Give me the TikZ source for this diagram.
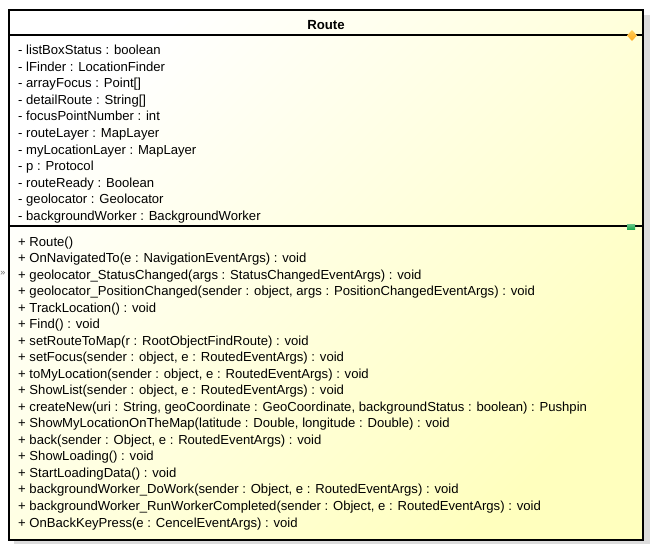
\documentclass[tikz,border=0pt]{standalone}
\usepackage{fontspec}
\setmainfont{Liberation Sans}
\definecolor{shadowgray}{RGB}{220,220,220}
\definecolor{boxyellow}{RGB}{255,255,190}
\definecolor{diamondorange}{RGB}{255,170,30}
\definecolor{diamondlight}{RGB}{255,205,90}
\definecolor{portgreen}{RGB}{30,170,80}
\begin{document}
\begin{tikzpicture}[x=1pt,y=-1pt,
  member/.style={anchor=base west,inner sep=0pt,font=\fontsize{13.1}{16}\selectfont},
  titletext/.style={anchor=base,inner sep=0pt,font=\fontsize{13.2}{16}\selectfont\bfseries},
  divider/.style={line width=1.5pt},
  frame/.style={line width=2.2pt}]
\useasboundingbox (0,0) rectangle (650,544);
% shadow
\fill[shadowgray] (14,15) rectangle (650,544);
% body gradient
\shade[top color=white,bottom color=boxyellow,shading angle=45] (9,10) rectangle (643,540);
\draw[frame] (9,10) rectangle (643,540);
\coordinate (dl1) at (9,35);
\coordinate (dr1) at (643,35);
\coordinate (dl2) at (9,226);
\coordinate (dr2) at (643,226);
\draw[divider] (dl1) -- (dr1);
\draw[divider] (dl2) -- (dr2);
% title
\node[titletext] (title) at (326,29) {Route};
% markers
\shade[top color=diamondlight,bottom color=diamondorange] (632,30) -- (637,35.5) -- (632,41) -- (627,35.5) -- cycle;
\shade[top color=portgreen!70!white,bottom color=portgreen] (627,224.5) rectangle (635,229);
\node[inner sep=0pt,text=gray!80!black,font=\fontsize{9}{9}\selectfont] (more) at (3,273) {»};
% attributes
\foreach \t [count=\i from 0] in {
  - listBoxStatus : boolean,
  - lFinder : LocationFinder,
  - arrayFocus : Point[],
  - detailRoute : String[],
  - focusPointNumber : int,
  - routeLayer : MapLayer,
  - myLocationLayer : MapLayer,
  - p : Protocol,
  - routeReady : Boolean,
  - geolocator : Geolocator,
  - backgroundWorker : BackgroundWorker}
  \node[member] (a\i) at (18,54.5+16.6*\i) {\t};
% methods
\foreach \t [count=\i from 0] in {
  + Route(),
  + OnNavigatedTo(e : NavigationEventArgs) : void,
  + geolocator\_StatusChanged(args : StatusChangedEventArgs) : void,
  {+ geolocator\_PositionChanged(sender : object, args : PositionChangedEventArgs) : void},
  + TrackLocation() : void,
  + Find() : void,
  + setRouteToMap(r : RootObjectFindRoute) : void,
  {+ setFocus(sender : object, e : RoutedEventArgs) : void},
  {+ toMyLocation(sender : object, e : RoutedEventArgs) : void},
  {+ ShowList(sender : object, e : RoutedEventArgs) : void},
  {+ createNew(uri : String, geoCoordinate : GeoCoordinate, backgroundStatus : boolean) : Pushpin},
  {+ ShowMyLocationOnTheMap(latitude : Double, longitude : Double) : void},
  {+ back(sender : Object, e : RoutedEventArgs) : void},
  + ShowLoading() : void,
  + StartLoadingData() : void,
  {+ backgroundWorker\_DoWork(sender : Object, e : RoutedEventArgs) : void},
  {+ backgroundWorker\_RunWorkerCompleted(sender : Object, e : RoutedEventArgs) : void},
  + OnBackKeyPress(e : CencelEventArgs) : void}
  \node[member] (m\i) at (18,246+16.53*\i) {\t};
\end{tikzpicture}
\end{document}
